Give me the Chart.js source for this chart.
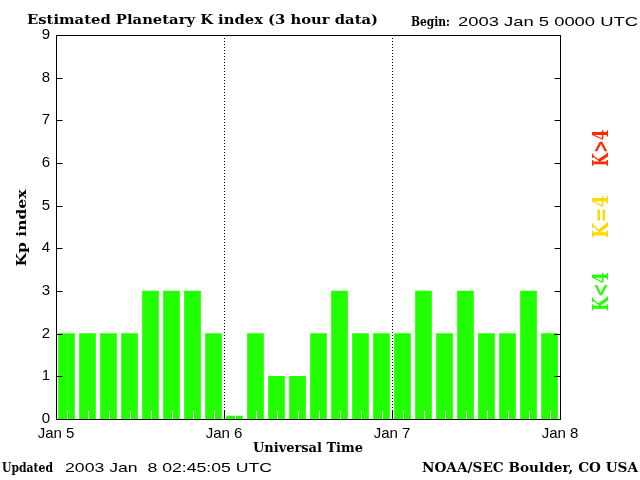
<!DOCTYPE html>
<html><head><meta charset="utf-8">
<script src="https://cdn.jsdelivr.net/npm/chart.js@4"></script>
<style>html,body{margin:0;padding:0;background:#fff}canvas{display:block}</style>
</head><body>
<canvas id="c" width="640" height="480"></canvas>
<script>
// ---- data ----
const slotStartHours = [0,3,6,9,12,15,18,21,24,27,30,33,36,39,42,45,48,51,54,57,60,63,66,69];
const kpValues = [2,2,2,2,3,3,3,2,0.07,2,1,1,2,3,2,2,2,3,2,3,2,2,3,2];
const dayLabels = ['Jan 5','Jan 6','Jan 7','Jan 8'];
const legendLabels = ['K<4','K=4','K>4'];
const legendColors = ['#22ff00','#ffd800','#ff2a00'];

const SERIF = "'DejaVu Serif'";
const SANS = "'Liberation Sans'";

function barColor(v){ return v < 4 ? legendColors[0] : (v === 4 ? legendColors[1] : legendColors[2]); }

function stretchText(ctx, text, font, color, x, y, width, align, rotate){
  ctx.save();
  ctx.font = font; ctx.fillStyle = color;
  ctx.textBaseline = 'alphabetic'; ctx.textAlign = 'left';
  const w = ctx.measureText(text).width;
  const sx = width / w;
  ctx.translate(x, y);
  if (rotate) ctx.rotate(-Math.PI/2);
  ctx.scale(sx, 1);
  const ox = align === 'center' ? -w/2 : (align === 'right' ? -w : 0);
  ctx.fillText(text, ox, 0);
  ctx.restore();
}

const decor = {
  id: 'decor',
  afterDatasetsDraw(chart){
    const {ctx, chartArea:a, scales:{x, y}} = chart;
    ctx.save();
    ctx.lineWidth = 1;
    // white minor ticks at slot centres
    ctx.strokeStyle = '#fff';
    slotStartHours.forEach(h => {
      const px = Math.round(x.getPixelForValue(h + 1.5)) + 0.5;
      ctx.beginPath(); ctx.moveTo(px, a.bottom); ctx.lineTo(px, a.bottom - 8); ctx.stroke();
    });
    // day boundaries
    ctx.strokeStyle = '#000';
    for (let d = 1; d < dayLabels.length - 1; d++){
      const px = Math.round(x.getPixelForValue(24 * d)) + 0.5;
      ctx.setLineDash([1,2]);
      ctx.beginPath(); ctx.moveTo(px, a.top); ctx.lineTo(px, a.bottom - 8); ctx.stroke();
      ctx.setLineDash([]);
      ctx.beginPath(); ctx.moveTo(px, a.bottom - 8); ctx.lineTo(px, a.bottom); ctx.stroke();
    }
    // frame
    const L = Math.round(a.left) + 0.5, R = Math.round(a.right) + 0.5,
          T = Math.round(a.top) + 0.5, B = Math.round(a.bottom) + 0.5;
    ctx.strokeRect(L, T, R - L, B - T);
    // inward y ticks
    for (let v = 1; v < 9; v++){
      const py = Math.round(y.getPixelForValue(v)) + 0.5;
      ctx.beginPath();
      ctx.moveTo(L, py); ctx.lineTo(L + 6, py);
      ctx.moveTo(R - 6, py); ctx.lineTo(R, py);
      ctx.stroke();
    }
    ctx.restore();
  },
  afterDraw(chart){
    const ctx = chart.ctx;
    stretchText(ctx, 'Estimated Planetary K index (3 hour data)', 'bold 13px ' + SERIF, '#000', 27, 24, 351, 'left');
    stretchText(ctx, 'Begin:', 'bold 13px ' + SERIF, '#000', 411, 26, 39, 'left');
    stretchText(ctx, '2003 Jan 5 0000 UTC', '13px ' + SANS, '#000', 458, 26, 180, 'left');
    stretchText(ctx, 'Universal Time', 'bold 13px ' + SERIF, '#000', 308, 452, 110, 'center');
    stretchText(ctx, 'Kp index', 'bold 13px ' + SERIF, '#000', 26, 228, 77, 'center', true);
    stretchText(ctx, 'Updated', 'bold 13px ' + SERIF, '#000', 2, 472, 51, 'left');
    stretchText(ctx, '2003 Jan  8 02:45:05 UTC', '13px ' + SANS, '#000', 65, 472, 207, 'left');
    stretchText(ctx, 'NOAA/SEC Boulder, CO USA', 'bold 13px ' + SERIF, '#000', 638, 472, 216, 'right');
    // vertical legend
    const legendCentres = [291.5, 216.5, 148];
    const legendLengths = [39, 43, 37];
    legendLabels.forEach((t, i) => {
      stretchText(ctx, t, 'bold 22px ' + SERIF, legendColors[i], 608, legendCentres[i], legendLengths[i], 'center', true);
    });
  }
};

new Chart(document.getElementById('c'), {
  type: 'bar',
  data: {
    datasets: [{
      data: slotStartHours.map((h, i) => ({x: h + 1.5, y: kpValues[i]})),
      backgroundColor: kpValues.map(barColor),
      borderWidth: 0,
      barThickness: 16
    }]
  },
  options: {
    responsive: false,
    animation: false,
    devicePixelRatio: 1,
    layout: {padding: {left: 0, right: 80, top: 35, bottom: 0}},
    plugins: {legend: {display: false}, tooltip: {enabled: false}, title: {display: false}},
    scales: {
      x: {
        type: 'linear', min: 0, max: 72, offset: false,
        afterFit(s){ s.height = 61; },
        afterBuildTicks(s){ s.ticks = dayLabels.map((_, i) => ({value: i * 24})); },
        grid: {display: false, drawTicks: false, offset: false},
        border: {display: false},
        ticks: {
          autoSkip: false, maxRotation: 0, padding: 6,
          color: '#000', font: {family: 'Liberation Sans', size: 15},
          callback: v => dayLabels[Math.round(v / 24)]
        }
      },
      y: {
        min: 0, max: 9,
        afterFit(s){ s.width = 56; },
        grid: {display: false, drawTicks: false},
        border: {display: false},
        ticks: {
          stepSize: 1, padding: 6,
          color: '#000', font: {family: 'Liberation Sans', size: 15}
        }
      }
    }
  },
  plugins: [decor]
});
</script>
</body></html>
